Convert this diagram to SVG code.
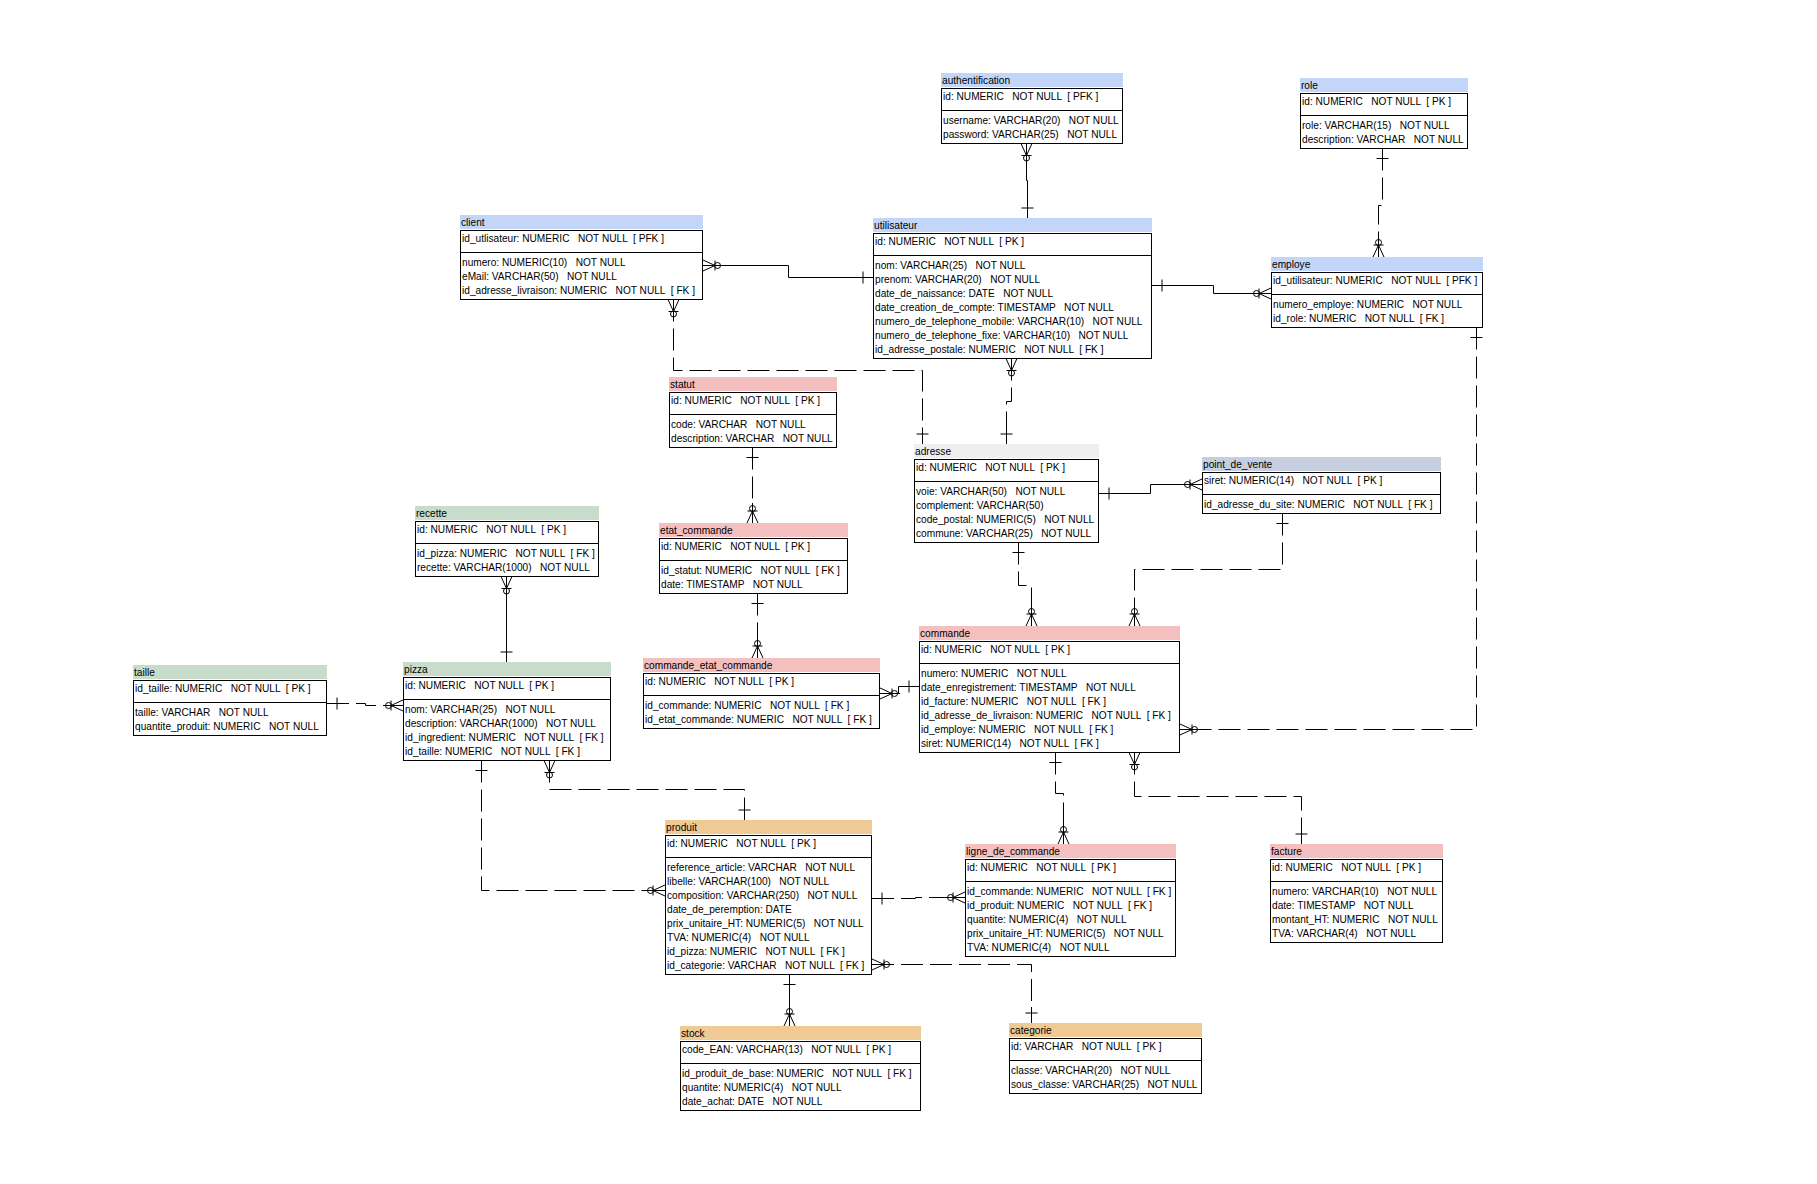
<svg xmlns="http://www.w3.org/2000/svg" width="1817" height="1184" viewBox="0 0 1817 1184" xml:space="preserve">
<style>
  .t { font-family: "Liberation Sans", Arial, sans-serif; font-size: 10.15px; fill: #000; white-space: pre; }
  .box { fill: #fff; stroke: #000; stroke-width: 1; }
  .sep { stroke: #000; stroke-width: 1; }
  .blue { fill: #c3d6f9; }
  .pink { fill: #f4bfbf; }
  .green { fill: #c8dccb; }
  .tan { fill: #efca95; }
  .gray { fill: #efefef; }
  .slate { fill: #c6cfdf; }
  .ln { fill: none; stroke: #000; stroke-width: 1; }
  .dash { stroke-dasharray: 22 7; }
  .mk { fill: none; stroke: #000; stroke-width: 1; stroke-dasharray: none; }
</style>
<defs>
  <!-- exactly one: short solid stub with a cross bar -->
  <marker id="one" viewBox="-30 -10 60 20" markerWidth="60" markerHeight="20" refX="0" refY="0" markerUnits="userSpaceOnUse" orient="auto-start-reverse" overflow="visible">
    <path class="mk" d="M0,0 H-16 M-10,-6 V6"/>
  </marker>
  <!-- zero or many: crow's foot, bar and circle -->
  <marker id="many" viewBox="-30 -10 60 20" markerWidth="60" markerHeight="20" refX="0" refY="0" markerUnits="userSpaceOnUse" orient="auto-start-reverse" overflow="visible">
    <path class="mk" d="M0,0 H-20 M0,-5.5 L-12,0 M0,5.5 L-12,0 M-12,-5 V5"/>
    <circle class="mk" cx="-14.5" cy="0" r="3"/>
  </marker>
</defs>
<rect x="0" y="0" width="1817" height="1184" fill="#fff"/>

<g id="connectors">
  <path class="ln" d="M1026.5,143.5 V180.5 H1027.5 V218" marker-start="url(#many)" marker-end="url(#one)"/>
  <path class="ln dash" d="M1382.5,148.5 V205.5 H1378.5 V257" marker-start="url(#one)" marker-end="url(#many)"/>
  <path class="ln" d="M703,265.5 H788.5 V277.5 H873" marker-start="url(#many)" marker-end="url(#one)"/>
  <path class="ln dash" d="M673.5,299.5 V370.5 H922.5 V444" marker-start="url(#many)" marker-end="url(#one)"/>
  <path class="ln dash" d="M1011.5,358.5 V401.5 H1006.5 V444" marker-start="url(#many)" marker-end="url(#one)"/>
  <path class="ln" d="M1152,285.5 H1213.5 V293.5 H1271" marker-start="url(#one)" marker-end="url(#many)"/>
  <path class="ln dash" d="M1476.5,327.5 V729.5 H1180" marker-start="url(#one)" marker-end="url(#many)"/>
  <path class="ln" d="M1099,493.5 H1150.5 V484.5 H1202" marker-start="url(#one)" marker-end="url(#many)"/>
  <path class="ln dash" d="M1018.5,542.5 V585.5 H1031.5 V626" marker-start="url(#one)" marker-end="url(#many)"/>
  <path class="ln dash" d="M1282.5,513.5 V569.5 H1134.5 V626" marker-start="url(#one)" marker-end="url(#many)"/>
  <path class="ln dash" d="M752.5,447.5 V523" marker-start="url(#one)" marker-end="url(#many)"/>
  <path class="ln dash" d="M757.5,593.5 V658" marker-start="url(#one)" marker-end="url(#many)"/>
  <path class="ln" d="M919,686.5 H898.5 V693.5 H880" marker-start="url(#one)" marker-end="url(#many)"/>
  <path class="ln" d="M506.5,576.5 V662" marker-start="url(#many)" marker-end="url(#one)"/>
  <path class="ln dash" d="M327,703.5 H365.5 V705.5 H403" marker-start="url(#one)" marker-end="url(#many)"/>
  <path class="ln dash" d="M549.5,760.5 V789.5 H744.5 V820" marker-start="url(#many)" marker-end="url(#one)"/>
  <path class="ln dash" d="M481.5,760.5 V890.5 H665" marker-start="url(#one)" marker-end="url(#many)"/>
  <path class="ln dash" d="M872,898.5 H915.5 V897.5 H965" marker-start="url(#one)" marker-end="url(#many)"/>
  <path class="ln dash" d="M872,964.5 H1031.5 V1023" marker-start="url(#many)" marker-end="url(#one)"/>
  <path class="ln" d="M789.5,974.5 V1026" marker-start="url(#one)" marker-end="url(#many)"/>
  <path class="ln dash" d="M1055.5,752.5 V793.5 H1063.5 V844" marker-start="url(#one)" marker-end="url(#many)"/>
  <path class="ln dash" d="M1134.5,752.5 V796.5 H1301.5 V844" marker-start="url(#many)" marker-end="url(#one)"/>
</g>

<g id="authentification">
  <rect class="blue" x="941" y="73" width="182" height="14"/>
  <text class="t" x="942" y="84">authentification</text>
  <rect class="box" x="941.5" y="88.5" width="181" height="55"/>
  <line class="sep" x1="941.5" y1="110.5" x2="1122.5" y2="110.5"/>
  <text class="t" x="943" y="100">id: NUMERIC   NOT NULL  [ PFK ]</text>
  <text class="t" x="943" y="124">username: VARCHAR(20)   NOT NULL</text>
  <text class="t" x="943" y="138">password: VARCHAR(25)   NOT NULL</text>
</g>

<g id="role">
  <rect class="blue" x="1300" y="78" width="168" height="14"/>
  <text class="t" x="1301" y="89">role</text>
  <rect class="box" x="1300.5" y="93.5" width="167" height="55"/>
  <line class="sep" x1="1300.5" y1="115.5" x2="1467.5" y2="115.5"/>
  <text class="t" x="1302" y="105">id: NUMERIC   NOT NULL  [ PK ]</text>
  <text class="t" x="1302" y="129">role: VARCHAR(15)   NOT NULL</text>
  <text class="t" x="1302" y="143">description: VARCHAR   NOT NULL</text>
</g>

<g id="client">
  <rect class="blue" x="460" y="215" width="243" height="14"/>
  <text class="t" x="461" y="226">client</text>
  <rect class="box" x="460.5" y="230.5" width="242" height="69"/>
  <line class="sep" x1="460.5" y1="252.5" x2="702.5" y2="252.5"/>
  <text class="t" x="462" y="242">id_utlisateur: NUMERIC   NOT NULL  [ PFK ]</text>
  <text class="t" x="462" y="266">numero: NUMERIC(10)   NOT NULL</text>
  <text class="t" x="462" y="280">eMail: VARCHAR(50)   NOT NULL</text>
  <text class="t" x="462" y="294">id_adresse_livraison: NUMERIC   NOT NULL  [ FK ]</text>
</g>

<g id="utilisateur">
  <rect class="blue" x="873" y="218" width="279" height="14"/>
  <text class="t" x="874" y="229">utilisateur</text>
  <rect class="box" x="873.5" y="233.5" width="278" height="125"/>
  <line class="sep" x1="873.5" y1="255.5" x2="1151.5" y2="255.5"/>
  <text class="t" x="875" y="245">id: NUMERIC   NOT NULL  [ PK ]</text>
  <text class="t" x="875" y="269">nom: VARCHAR(25)   NOT NULL</text>
  <text class="t" x="875" y="283">prenom: VARCHAR(20)   NOT NULL</text>
  <text class="t" x="875" y="297">date_de_naissance: DATE   NOT NULL</text>
  <text class="t" x="875" y="311">date_creation_de_compte: TIMESTAMP   NOT NULL</text>
  <text class="t" x="875" y="325">numero_de_telephone_mobile: VARCHAR(10)   NOT NULL</text>
  <text class="t" x="875" y="339">numero_de_telephone_fixe: VARCHAR(10)   NOT NULL</text>
  <text class="t" x="875" y="353">id_adresse_postale: NUMERIC   NOT NULL  [ FK ]</text>
</g>

<g id="employe">
  <rect class="blue" x="1271" y="257" width="212" height="14"/>
  <text class="t" x="1272" y="268">employe</text>
  <rect class="box" x="1271.5" y="272.5" width="211" height="55"/>
  <line class="sep" x1="1271.5" y1="294.5" x2="1482.5" y2="294.5"/>
  <text class="t" x="1273" y="284">id_utilisateur: NUMERIC   NOT NULL  [ PFK ]</text>
  <text class="t" x="1273" y="308">numero_employe: NUMERIC   NOT NULL</text>
  <text class="t" x="1273" y="322">id_role: NUMERIC   NOT NULL  [ FK ]</text>
</g>

<g id="statut">
  <rect class="pink" x="669" y="377" width="168" height="14"/>
  <text class="t" x="670" y="388">statut</text>
  <rect class="box" x="669.5" y="392.5" width="167" height="55"/>
  <line class="sep" x1="669.5" y1="414.5" x2="836.5" y2="414.5"/>
  <text class="t" x="671" y="404">id: NUMERIC   NOT NULL  [ PK ]</text>
  <text class="t" x="671" y="428">code: VARCHAR   NOT NULL</text>
  <text class="t" x="671" y="442">description: VARCHAR   NOT NULL</text>
</g>

<g id="adresse">
  <rect class="gray" x="914" y="444" width="185" height="14"/>
  <text class="t" x="915" y="455">adresse</text>
  <rect class="box" x="914.5" y="459.5" width="184" height="83"/>
  <line class="sep" x1="914.5" y1="481.5" x2="1098.5" y2="481.5"/>
  <text class="t" x="916" y="471">id: NUMERIC   NOT NULL  [ PK ]</text>
  <text class="t" x="916" y="495">voie: VARCHAR(50)   NOT NULL</text>
  <text class="t" x="916" y="509">complement: VARCHAR(50)</text>
  <text class="t" x="916" y="523">code_postal: NUMERIC(5)   NOT NULL</text>
  <text class="t" x="916" y="537">commune: VARCHAR(25)   NOT NULL</text>
</g>

<g id="point_de_vente">
  <rect class="slate" x="1202" y="457" width="239" height="14"/>
  <text class="t" x="1203" y="468">point_de_vente</text>
  <rect class="box" x="1202.5" y="472.5" width="238" height="41"/>
  <line class="sep" x1="1202.5" y1="494.5" x2="1440.5" y2="494.5"/>
  <text class="t" x="1204" y="484">siret: NUMERIC(14)   NOT NULL  [ PK ]</text>
  <text class="t" x="1204" y="508">id_adresse_du_site: NUMERIC   NOT NULL  [ FK ]</text>
</g>

<g id="recette">
  <rect class="green" x="415" y="506" width="184" height="14"/>
  <text class="t" x="416" y="517">recette</text>
  <rect class="box" x="415.5" y="521.5" width="183" height="55"/>
  <line class="sep" x1="415.5" y1="543.5" x2="598.5" y2="543.5"/>
  <text class="t" x="417" y="533">id: NUMERIC   NOT NULL  [ PK ]</text>
  <text class="t" x="417" y="557">id_pizza: NUMERIC   NOT NULL  [ FK ]</text>
  <text class="t" x="417" y="571">recette: VARCHAR(1000)   NOT NULL</text>
</g>

<g id="etat_commande">
  <rect class="pink" x="659" y="523" width="189" height="14"/>
  <text class="t" x="660" y="534">etat_commande</text>
  <rect class="box" x="659.5" y="538.5" width="188" height="55"/>
  <line class="sep" x1="659.5" y1="560.5" x2="847.5" y2="560.5"/>
  <text class="t" x="661" y="550">id: NUMERIC   NOT NULL  [ PK ]</text>
  <text class="t" x="661" y="574">id_statut: NUMERIC   NOT NULL  [ FK ]</text>
  <text class="t" x="661" y="588">date: TIMESTAMP   NOT NULL</text>
</g>

<g id="taille">
  <rect class="green" x="133" y="665" width="194" height="14"/>
  <text class="t" x="134" y="676">taille</text>
  <rect class="box" x="133.5" y="680.5" width="193" height="55"/>
  <line class="sep" x1="133.5" y1="702.5" x2="326.5" y2="702.5"/>
  <text class="t" x="135" y="692">id_taille: NUMERIC   NOT NULL  [ PK ]</text>
  <text class="t" x="135" y="716">taille: VARCHAR   NOT NULL</text>
  <text class="t" x="135" y="730">quantite_produit: NUMERIC   NOT NULL</text>
</g>

<g id="pizza">
  <rect class="green" x="403" y="662" width="208" height="14"/>
  <text class="t" x="404" y="673">pizza</text>
  <rect class="box" x="403.5" y="677.5" width="207" height="83"/>
  <line class="sep" x1="403.5" y1="699.5" x2="610.5" y2="699.5"/>
  <text class="t" x="405" y="689">id: NUMERIC   NOT NULL  [ PK ]</text>
  <text class="t" x="405" y="713">nom: VARCHAR(25)   NOT NULL</text>
  <text class="t" x="405" y="727">description: VARCHAR(1000)   NOT NULL</text>
  <text class="t" x="405" y="741">id_ingredient: NUMERIC   NOT NULL  [ FK ]</text>
  <text class="t" x="405" y="755">id_taille: NUMERIC   NOT NULL  [ FK ]</text>
</g>

<g id="commande_etat_commande">
  <rect class="pink" x="643" y="658" width="237" height="14"/>
  <text class="t" x="644" y="669">commande_etat_commande</text>
  <rect class="box" x="643.5" y="673.5" width="236" height="55"/>
  <line class="sep" x1="643.5" y1="695.5" x2="879.5" y2="695.5"/>
  <text class="t" x="645" y="685">id: NUMERIC   NOT NULL  [ PK ]</text>
  <text class="t" x="645" y="709">id_commande: NUMERIC   NOT NULL  [ FK ]</text>
  <text class="t" x="645" y="723">id_etat_commande: NUMERIC   NOT NULL  [ FK ]</text>
</g>

<g id="commande">
  <rect class="pink" x="919" y="626" width="261" height="14"/>
  <text class="t" x="920" y="637">commande</text>
  <rect class="box" x="919.5" y="641.5" width="260" height="111"/>
  <line class="sep" x1="919.5" y1="663.5" x2="1179.5" y2="663.5"/>
  <text class="t" x="921" y="653">id: NUMERIC   NOT NULL  [ PK ]</text>
  <text class="t" x="921" y="677">numero: NUMERIC   NOT NULL</text>
  <text class="t" x="921" y="691">date_enregistrement: TIMESTAMP   NOT NULL</text>
  <text class="t" x="921" y="705">id_facture: NUMERIC   NOT NULL  [ FK ]</text>
  <text class="t" x="921" y="719">id_adresse_de_livraison: NUMERIC   NOT NULL  [ FK ]</text>
  <text class="t" x="921" y="733">id_employe: NUMERIC   NOT NULL  [ FK ]</text>
  <text class="t" x="921" y="747">siret: NUMERIC(14)   NOT NULL  [ FK ]</text>
</g>

<g id="produit">
  <rect class="tan" x="665" y="820" width="207" height="14"/>
  <text class="t" x="666" y="831">produit</text>
  <rect class="box" x="665.5" y="835.5" width="206" height="139"/>
  <line class="sep" x1="665.5" y1="857.5" x2="871.5" y2="857.5"/>
  <text class="t" x="667" y="847">id: NUMERIC   NOT NULL  [ PK ]</text>
  <text class="t" x="667" y="871">reference_article: VARCHAR   NOT NULL</text>
  <text class="t" x="667" y="885">libelle: VARCHAR(100)   NOT NULL</text>
  <text class="t" x="667" y="899">composition: VARCHAR(250)   NOT NULL</text>
  <text class="t" x="667" y="913">date_de_peremption: DATE</text>
  <text class="t" x="667" y="927">prix_unitaire_HT: NUMERIC(5)   NOT NULL</text>
  <text class="t" x="667" y="941">TVA: NUMERIC(4)   NOT NULL</text>
  <text class="t" x="667" y="955">id_pizza: NUMERIC   NOT NULL  [ FK ]</text>
  <text class="t" x="667" y="969">id_categorie: VARCHAR   NOT NULL  [ FK ]</text>
</g>

<g id="ligne_de_commande">
  <rect class="pink" x="965" y="844" width="211" height="14"/>
  <text class="t" x="966" y="855">ligne_de_commande</text>
  <rect class="box" x="965.5" y="859.5" width="210" height="97"/>
  <line class="sep" x1="965.5" y1="881.5" x2="1175.5" y2="881.5"/>
  <text class="t" x="967" y="871">id: NUMERIC   NOT NULL  [ PK ]</text>
  <text class="t" x="967" y="895">id_commande: NUMERIC   NOT NULL  [ FK ]</text>
  <text class="t" x="967" y="909">id_produit: NUMERIC   NOT NULL  [ FK ]</text>
  <text class="t" x="967" y="923">quantite: NUMERIC(4)   NOT NULL</text>
  <text class="t" x="967" y="937">prix_unitaire_HT: NUMERIC(5)   NOT NULL</text>
  <text class="t" x="967" y="951">TVA: NUMERIC(4)   NOT NULL</text>
</g>

<g id="facture">
  <rect class="pink" x="1270" y="844" width="173" height="14"/>
  <text class="t" x="1271" y="855">facture</text>
  <rect class="box" x="1270.5" y="859.5" width="172" height="83"/>
  <line class="sep" x1="1270.5" y1="881.5" x2="1442.5" y2="881.5"/>
  <text class="t" x="1272" y="871">id: NUMERIC   NOT NULL  [ PK ]</text>
  <text class="t" x="1272" y="895">numero: VARCHAR(10)   NOT NULL</text>
  <text class="t" x="1272" y="909">date: TIMESTAMP   NOT NULL</text>
  <text class="t" x="1272" y="923">montant_HT: NUMERIC   NOT NULL</text>
  <text class="t" x="1272" y="937">TVA: VARCHAR(4)   NOT NULL</text>
</g>

<g id="stock">
  <rect class="tan" x="680" y="1026" width="241" height="14"/>
  <text class="t" x="681" y="1037">stock</text>
  <rect class="box" x="680.5" y="1041.5" width="240" height="69"/>
  <line class="sep" x1="680.5" y1="1063.5" x2="920.5" y2="1063.5"/>
  <text class="t" x="682" y="1053">code_EAN: VARCHAR(13)   NOT NULL  [ PK ]</text>
  <text class="t" x="682" y="1077">id_produit_de_base: NUMERIC   NOT NULL  [ FK ]</text>
  <text class="t" x="682" y="1091">quantite: NUMERIC(4)   NOT NULL</text>
  <text class="t" x="682" y="1105">date_achat: DATE   NOT NULL</text>
</g>

<g id="categorie">
  <rect class="tan" x="1009" y="1023" width="193" height="14"/>
  <text class="t" x="1010" y="1034">categorie</text>
  <rect class="box" x="1009.5" y="1038.5" width="192" height="55"/>
  <line class="sep" x1="1009.5" y1="1060.5" x2="1201.5" y2="1060.5"/>
  <text class="t" x="1011" y="1050">id: VARCHAR   NOT NULL  [ PK ]</text>
  <text class="t" x="1011" y="1074">classe: VARCHAR(20)   NOT NULL</text>
  <text class="t" x="1011" y="1088">sous_classe: VARCHAR(25)   NOT NULL</text>
</g>
</svg>
